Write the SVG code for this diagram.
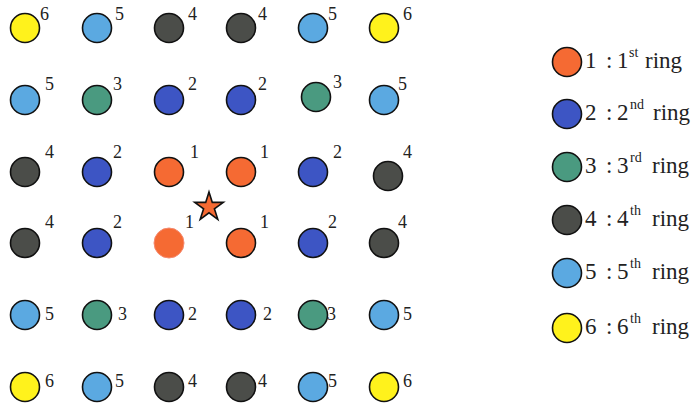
<svg xmlns="http://www.w3.org/2000/svg" width="694" height="405" viewBox="0 0 694 405" font-family="'Liberation Serif', 'Times New Roman', serif">
<style>
.c{stroke:#111;stroke-width:1.6}
.r1{fill:#F56A33}.r2{fill:#3D55C4}.r3{fill:#4A9A80}.r4{fill:#4B4D49}.r5{fill:#5BA9E1}.r6{fill:#FFF21C}
text{font-family:'Liberation Serif','Times New Roman',serif}
.l{font-size:18px;fill:#222}
.g{font-size:23px;fill:#222}
.s{font-size:14px}
</style>
<rect width="694" height="405" fill="#fff"/>
<g id="grid">
<g id="n11"><circle class="c r6" cx="25" cy="28" r="14.5"/><text class="l" x="40" y="20">6</text></g>
<g id="n12"><circle class="c r5" cx="97" cy="28" r="14.5"/><text class="l" x="115" y="20">5</text></g>
<g id="n13"><circle class="c r4" cx="169" cy="28" r="14.5"/><text class="l" x="188" y="20">4</text></g>
<g id="n14"><circle class="c r4" cx="241" cy="28" r="14.5"/><text class="l" x="258" y="20">4</text></g>
<g id="n15"><circle class="c r5" cx="313" cy="28" r="14.5"/><text class="l" x="328" y="20">5</text></g>
<g id="n16"><circle class="c r6" cx="384" cy="28" r="14.5"/><text class="l" x="403" y="20">6</text></g>

<g id="n21"><circle class="c r5" cx="25" cy="100" r="14.5"/><text class="l" x="45" y="90">5</text></g>
<g id="n22"><circle class="c r3" cx="97" cy="100" r="14.5"/><text class="l" x="113" y="90">3</text></g>
<g id="n23"><circle class="c r2" cx="169" cy="100" r="14.5"/><text class="l" x="188" y="90">2</text></g>
<g id="n24"><circle class="c r2" cx="241" cy="100" r="14.5"/><text class="l" x="258" y="90">2</text></g>
<g id="n25"><circle class="c r3" cx="316" cy="97" r="14.5"/><text class="l" x="333" y="88">3</text></g>
<g id="n26"><circle class="c r5" cx="384" cy="100" r="14.5"/><text class="l" x="398" y="90">5</text></g>

<g id="n31"><circle class="c r4" cx="25" cy="172" r="14.5"/><text class="l" x="45" y="158">4</text></g>
<g id="n32"><circle class="c r2" cx="97" cy="172" r="14.5"/><text class="l" x="113" y="158">2</text></g>
<g id="n33"><circle class="c r1" cx="169" cy="172" r="14.5"/><text class="l" x="190" y="158">1</text></g>
<g id="n34"><circle class="c r1" cx="241" cy="172" r="14.5"/><text class="l" x="260" y="158">1</text></g>
<g id="n35"><circle class="c r2" cx="313" cy="172" r="14.5"/><text class="l" x="333" y="158">2</text></g>
<g id="n36"><circle class="c r4" cx="388" cy="176" r="14.5"/><text class="l" x="403" y="158">4</text></g>

<g id="n41"><circle class="c r4" cx="25" cy="243" r="14.5"/><text class="l" x="45" y="228">4</text></g>
<g id="n42"><circle class="c r2" cx="97" cy="243" r="14.5"/><text class="l" x="113" y="228">2</text></g>
<g id="n43"><circle class="r1" cx="169" cy="243" r="15" stroke="#F58A70" stroke-width="1"/><text class="l" x="185" y="228">1</text></g>
<g id="n44"><circle class="c r1" cx="241" cy="243" r="14.5"/><text class="l" x="260" y="228">1</text></g>
<g id="n45"><circle class="c r2" cx="313" cy="243" r="14.5"/><text class="l" x="328" y="228">2</text></g>
<g id="n46"><circle class="c r4" cx="384" cy="243" r="14.5"/><text class="l" x="398" y="228">4</text></g>

<g id="n51"><circle class="c r5" cx="25" cy="315" r="14.5"/><text class="l" x="45" y="320">5</text></g>
<g id="n52"><circle class="c r3" cx="97" cy="315" r="14.5"/><text class="l" x="118" y="320">3</text></g>
<g id="n53"><circle class="c r2" cx="169" cy="315" r="14.5"/><text class="l" x="188" y="320">2</text></g>
<g id="n54"><circle class="c r2" cx="241" cy="315" r="14.5"/><text class="l" x="263" y="320">2</text></g>
<g id="n55"><circle class="c r3" cx="313" cy="315" r="14.5"/><text class="l" x="327" y="320">3</text></g>
<g id="n56"><circle class="c r5" cx="384" cy="315" r="14.5"/><text class="l" x="403" y="320">5</text></g>

<g id="n61"><circle class="c r6" cx="25" cy="387" r="14.5"/><text class="l" x="45" y="387">6</text></g>
<g id="n62"><circle class="c r5" cx="97" cy="387" r="14.5"/><text class="l" x="115" y="387">5</text></g>
<g id="n63"><circle class="c r4" cx="169" cy="387" r="14.5"/><text class="l" x="188" y="387">4</text></g>
<g id="n64"><circle class="c r4" cx="241" cy="387" r="14.5"/><text class="l" x="258" y="387">4</text></g>
<g id="n65"><circle class="c r5" cx="313" cy="387" r="14.5"/><text class="l" x="328" y="387">5</text></g>
<g id="n66"><circle class="c r6" cx="384" cy="387" r="14.5"/><text class="l" x="403" y="387">6</text></g>
</g>
<g id="star">
<polygon class="c r1" points="209,192 212.3,202.4 223.3,202.4 214.4,208.8 217.8,219.3 209,212.8 200.2,219.3 203.6,208.8 194.7,202.4 205.7,202.4"/>
</g>
<g id="connectors"></g>
<g id="legend">
<g id="k1"><circle class="c r1" cx="567" cy="62" r="14.5"/><text class="g" y="68"><tspan x="585">1</tspan><tspan x="606">:</tspan><tspan x="617">1</tspan><tspan class="s" x="629" dy="-11">st</tspan><tspan x="645" dy="11">ring</tspan></text></g>
<g id="k2"><circle class="c r2" cx="567" cy="114" r="14.5"/><text class="g" y="120"><tspan x="585">2</tspan><tspan x="606">:</tspan><tspan x="617">2</tspan><tspan class="s" x="630" dy="-11">nd</tspan><tspan x="653" dy="11">ring</tspan></text></g>
<g id="k3"><circle class="c r3" cx="567" cy="167" r="14.5"/><text class="g" y="173"><tspan x="585">3</tspan><tspan x="606">:</tspan><tspan x="617">3</tspan><tspan class="s" x="630" dy="-11">rd</tspan><tspan x="652" dy="11">ring</tspan></text></g>
<g id="k4"><circle class="c r4" cx="567" cy="220" r="14.5"/><text class="g" y="226"><tspan x="585">4</tspan><tspan x="606">:</tspan><tspan x="617">4</tspan><tspan class="s" x="630" dy="-11">th</tspan><tspan x="652" dy="11">ring</tspan></text></g>
<g id="k5"><circle class="c r5" cx="567" cy="273" r="14.5"/><text class="g" y="279"><tspan x="585">5</tspan><tspan x="606">:</tspan><tspan x="617">5</tspan><tspan class="s" x="630" dy="-11">th</tspan><tspan x="652" dy="11">ring</tspan></text></g>
<g id="k6"><circle class="c r6" cx="567" cy="328" r="14.5"/><text class="g" y="334"><tspan x="585">6</tspan><tspan x="606">:</tspan><tspan x="617">6</tspan><tspan class="s" x="630" dy="-11">th</tspan><tspan x="652" dy="11">ring</tspan></text></g>
</g>
</svg>
